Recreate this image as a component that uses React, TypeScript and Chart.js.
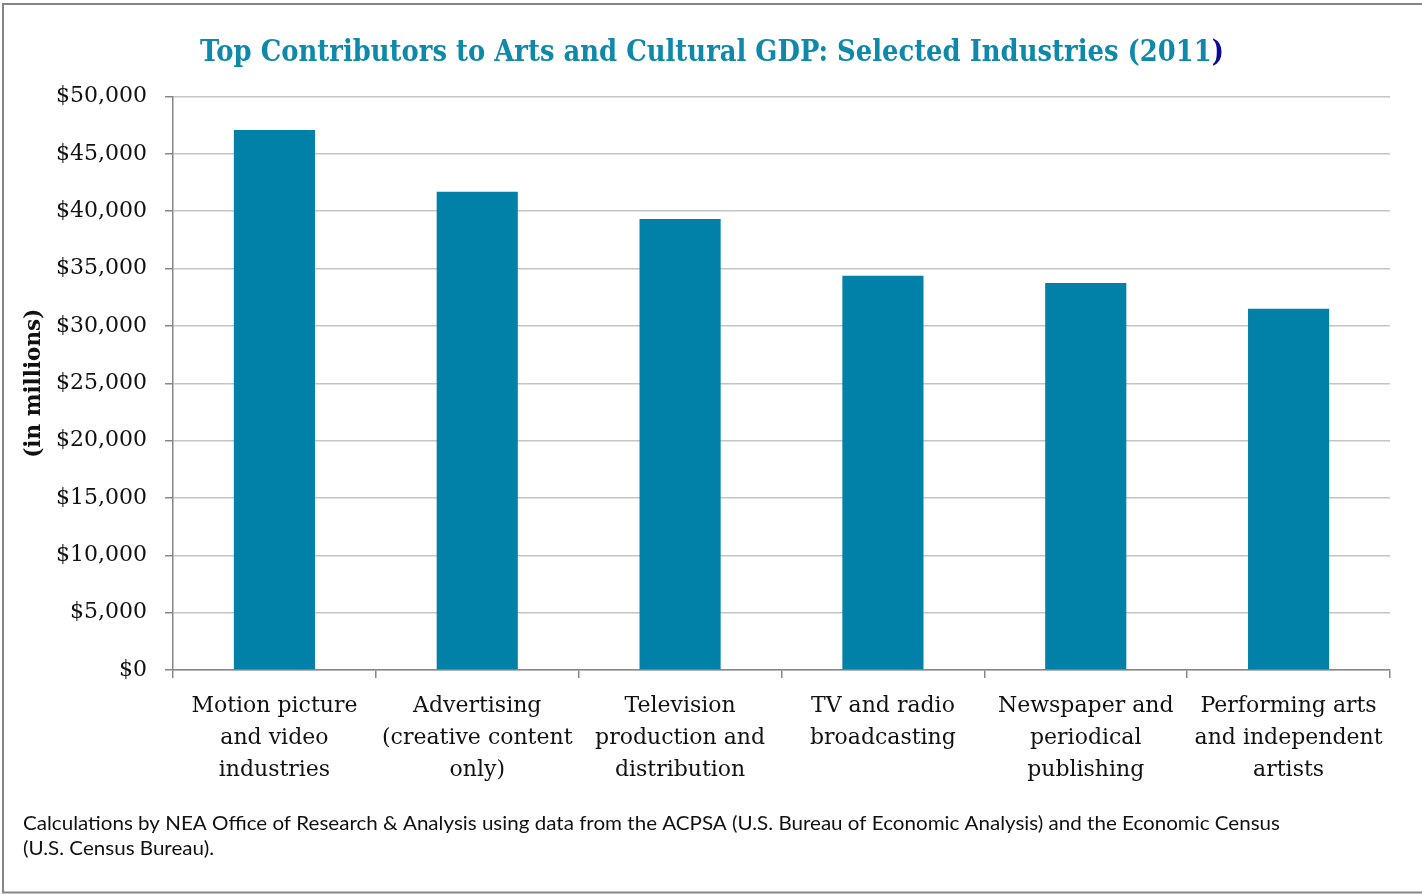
import React, { useEffect, useRef } from "react";
import { Chart, registerables } from "chart.js";

Chart.register(...registerables);

const categories: string[][] = [
  ["Motion picture", "and video", "industries"],
  ["Advertising", "(creative content", "only)"],
  ["Television", "production and", "distribution"],
  ["TV and radio", "broadcasting"],
  ["Newspaper and", "periodical", "publishing"],
  ["Performing arts", "and independent", "artists"],
];
const gdpValues: number[] = [47080, 41700, 39320, 34380, 33740, 31500];
const titleMain = "Top Contributors to Arts and Cultural GDP: Selected Industries (2011";
const titleEnd = ")";
const yAxisTitle = "(in millions)";
const footerLines: string[] = [
  "Calculations by NEA Office of Research & Analysis using data from the ACPSA (U.S. Bureau of Economic Analysis) and the Economic Census",
  "(U.S. Census Bureau).",
];

const SERIF = "'DejaVu Serif', 'Liberation Serif', serif";

const decorPlugin = {
  id: "decor",
  beforeDraw(chart: any) {
    const ctx = chart.ctx;
    ctx.save();
    ctx.fillStyle = "#ffffff";
    ctx.fillRect(0, 0, chart.width, chart.height);
    ctx.strokeStyle = "#858585";
    ctx.lineWidth = 2;
    ctx.beginPath();
    ctx.moveTo(1422, 4);
    ctx.lineTo(3, 4);
    ctx.lineTo(3, 892.5);
    ctx.lineTo(1422, 892.5);
    ctx.stroke();
    ctx.restore();
  },
  afterDraw(chart: any) {
    const ctx = chart.ctx;
    ctx.save();
    // title
    const targetW = 1024;
    ctx.font = `bold 30px ${SERIF}`;
    const w1 = ctx.measureText(titleMain).width;
    const w2 = ctx.measureText(titleEnd).width;
    const sx = targetW / (w1 + w2);
    ctx.translate(200, 61);
    ctx.scale(sx, 1);
    ctx.textBaseline = "alphabetic";
    ctx.textAlign = "left";
    ctx.fillStyle = "#0f89aa";
    ctx.fillText(titleMain, 0, 0);
    ctx.fillStyle = "#0a0a9a";
    ctx.fillText(titleEnd, w1, 0);
    ctx.restore();

    // footer
    ctx.save();
    ctx.font = `19px Lato, 'Open Sans', sans-serif`;
    ctx.fillStyle = "#111111";
    ctx.textBaseline = "alphabetic";
    ctx.textAlign = "left";
    const fw = ctx.measureText(footerLines[0]).width;
    const fsx = 1257 / fw;
    ctx.translate(23, 0);
    ctx.scale(fsx, 1);
    ctx.fillText(footerLines[0], 0, 830);
    ctx.fillText(footerLines[1], 0, 855);
    ctx.restore();
  },
};

export default function App() {
  const ref = useRef<HTMLCanvasElement | null>(null);
  useEffect(() => {
    document.body.style.margin = "0";
    const canvas = ref.current;
    if (!canvas) return;
    const chart = new Chart(canvas, {
      type: "bar",
      data: {
        labels: categories,
        datasets: [
          {
            data: gdpValues,
            backgroundColor: "#0181a7",
            borderWidth: 0,
            barPercentage: 0.4,
            categoryPercentage: 1,
          },
        ],
      },
      options: {
        responsive: false,
        animation: false,
        devicePixelRatio: 1,
        layout: { padding: { left: 0, right: 32, top: 96.5, bottom: 74 } },
        plugins: {
          legend: { display: false },
          title: { display: false },
          tooltip: { enabled: false },
        },
        scales: {
          x: {
            offset: true,
            afterFit(scale: any) {
              scale.height = 150;
            },
            grid: {
              offset: true,
              drawOnChartArea: false,
              drawTicks: true,
              tickLength: 8,
              color: "#878787",
              lineWidth: 1.5,
            },
            border: { color: "#878787", width: 1.5 },
            ticks: {
              color: "#111111",
              font: { family: SERIF, size: 22, lineHeight: 1.46 },
              padding: 12,
              maxRotation: 0,
              autoSkip: false,
            },
          },
          y: {
            min: 0,
            max: 50000,
            afterFit(scale: any) {
              scale.width = 173;
            },
            grid: {
              color: "#c4c4c4",
              lineWidth: 1.5,
              tickLength: 8,
              tickColor: "#878787",
            },
            border: { color: "#878787", width: 1.5 },
            ticks: {
              stepSize: 5000,
              color: "#111111",
              padding: 18,
              font: { family: SERIF, size: 22 },
              callback: (v: any) => "$" + Number(v).toLocaleString("en-US"),
            },
            title: {
              display: true,
              text: yAxisTitle,
              color: "#111111",
              font: { family: SERIF, size: 21.5, weight: "bold", lineHeight: 1.2 },
              padding: { top: 22, bottom: 0 },
            },
          },
        },
      },
      plugins: [decorPlugin],
    });
    return () => chart.destroy();
  }, []);
  return (
    <div style={{ width: 1422, height: 894, position: "relative" }}>
      <canvas ref={ref} width={1422} height={894} style={{ display: "block" }} />
    </div>
  );
}
